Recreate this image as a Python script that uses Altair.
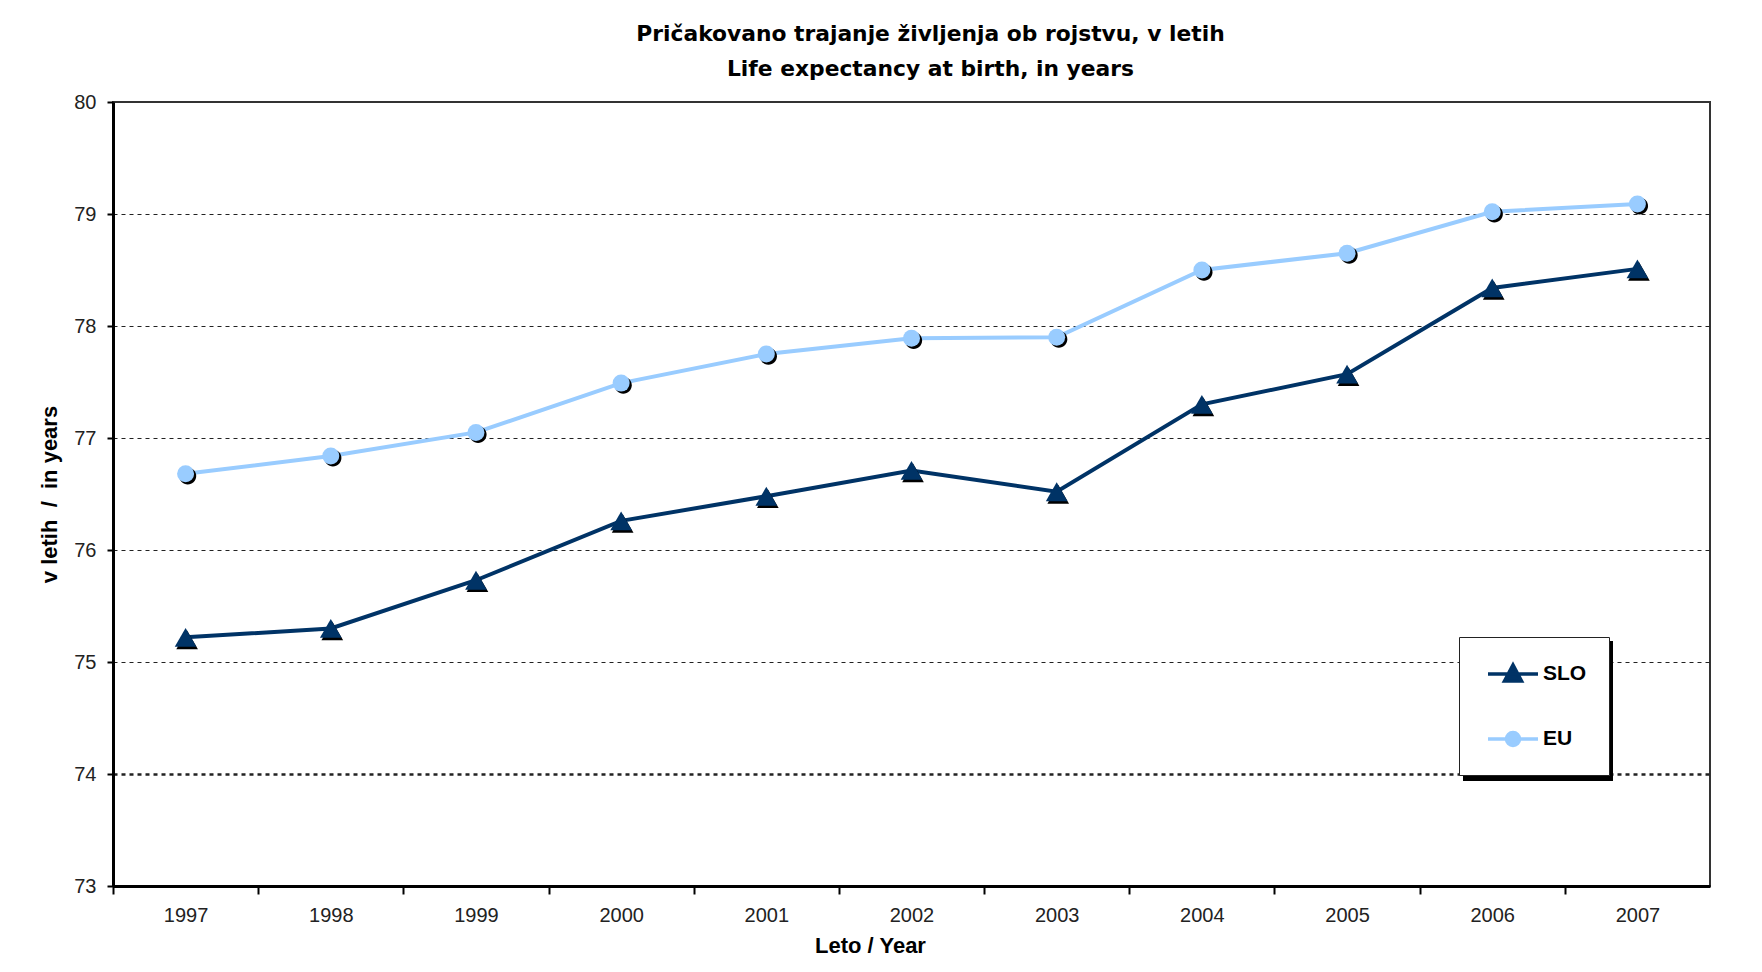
import altair as alt
import pandas as pd

# ---- data ----
years = ["1997", "1998", "1999", "2000", "2001", "2002", "2003", "2004", "2005", "2006", "2007"]
slo = [75.22, 75.30, 75.73, 76.26, 76.48, 76.71, 76.52, 77.30, 77.57, 78.34, 78.51]
eu = [76.68, 76.84, 77.05, 77.49, 77.75, 77.89, 77.90, 78.50, 78.65, 79.02, 79.09]
series_names = ["SLO", "EU"]
series_colors = ["#003366", "#99CCFF"]
y_ticks = [73, 74, 75, 76, 77, 78, 79, 80]
title_lines = ["Pričakovano trajanje življenja ob rojstvu, v letih",
               "Life expectancy at birth, in years"]
x_title = "Leto / Year"
y_title = "v letih\u00a0\u00a0/\u00a0\u00a0in years"

# ---- layout ----
W, H = 1597, 784
band = W / len(years)

df = pd.DataFrame({
    "year": years * 2,
    "value": slo + eu,
    "series": ["SLO"] * len(years) + ["EU"] * len(years),
})

x_enc = alt.X(
    "year:O",
    scale=alt.Scale(type="point", padding=0.5, domain=years),
    axis=alt.Axis(
        title=x_title, labelAngle=0, tickOffset=-band / 2, labelOffset=band / 2,
        tickSize=8, tickWidth=2, tickColor="black",
        domainColor="black", domainWidth=3,
        labelFont="Liberation Sans", labelFontSize=20, labelColor="#222",
        labelPadding=11, labelFlush=False, labelOverlap=False,
        titleFont="Liberation Sans", titleFontSize=22, titleFontWeight="bold",
        titleColor="black", titleX=757, titleY=66, titleBaseline="alphabetic",
        titleAlign="center", grid=False,
    ),
)
y_enc = alt.Y(
    "value:Q",
    scale=alt.Scale(domain=[73, 80], nice=False, zero=False),
    axis=alt.Axis(
        values=y_ticks, title=y_title, grid=True, gridDash=[4, 4],
        gridWidth={"condition": {"test": "datum.value === 74", "value": 2.5}, "value": 1},
        gridColor={"condition": {"test": "datum.value >= 80 || datum.value <= 73",
                                 "value": "transparent"}, "value": "#222"},
        tickSize=6, tickWidth=2, tickColor="black",
        domainColor="black", domainWidth=3,
        labelFont="Liberation Sans", labelFontSize=20, labelColor="#222",
        labelPadding=11,
        titleFont="Liberation Sans", titleFontSize=22, titleFontWeight="bold",
        titleColor="black", titleX=-57, titleY=H / 2, titleBaseline="alphabetic",
        titleAlign="center",
    ),
)

slo_legend_path = "M-1,0L1,0M-0.34,0.28L0,-0.36L0.34,0.28Z"
eu_legend_path = "M-1,0L1,0M-0.26,0A0.26,0.26,0,1,1,0.26,0A0.26,0.26,0,1,1,-0.26,0Z"
shape_expr = "datum.value === 'SLO' ? '%s' : '%s'" % (slo_legend_path, eu_legend_path)

color_enc = alt.Color(
    "series:N",
    scale=alt.Scale(domain=series_names, range=series_colors),
    legend=alt.Legend(
        orient="none", legendX=1346, legendY=535,
        # invisible spacer title that gives the legend box its width/height
        title="_" * 29, titleOrient="bottom", titleFontSize=8, titlePadding=4,
        titleColor="white", titleFont="Liberation Sans", titleLimit=400,
        padding=10, symbolOffset=17, symbolSize=2500, symbolStrokeWidth=3.5,
        symbolType=alt.expr(shape_expr),
        symbolStrokeColor=alt.expr("scale('color', datum.value)"),
        symbolOpacity=1,
        labelOffset=3, rowPadding=24,
        labelFont="Liberation Sans", labelFontSize=21, labelFontWeight="bold",
        labelColor="black", strokeColor="#222", fillColor="white", zindex=1,
    ),
)

base = alt.Chart(df)
slo_df = base.transform_filter("datum.series === 'SLO'")
eu_df = base.transform_filter("datum.series === 'EU'")

slo_line = slo_df.mark_line(strokeWidth=4, color=series_colors[0]).encode(x=x_enc, y=y_enc)
eu_line = eu_df.mark_line(strokeWidth=4, color=series_colors[1]).encode(x=x_enc, y=y_enc)

# invisible layer that carries the legend
legend_layer = base.mark_point(filled=True, size=0).encode(x=x_enc, y=y_enc, color=color_enc)

circle_shadow = "M-0.75,0.25A1,1,0,1,1,1.25,0.25A1,1,0,1,1,-0.75,0.25Z"
tri_shadow = "M0.14,-0.636L-0.86,1.096L1.14,1.096Z"

eu_shadow = eu_df.mark_point(
    shape=circle_shadow, filled=True, color="black", size=289, opacity=1
).encode(x=x_enc, y=y_enc)
eu_pts = eu_df.mark_point(
    shape="circle", filled=True, color=series_colors[1], size=289, opacity=1
).encode(x=x_enc, y=y_enc)
slo_shadow = slo_df.mark_point(
    shape=tri_shadow, filled=True, color="black", size=470, opacity=1
).encode(x=x_enc, y=y_enc)
slo_pts = slo_df.mark_point(
    shape="triangle-up", filled=True, color=series_colors[0], size=470, opacity=1
).encode(x=x_enc, y=y_enc)

# decorative drop shadow behind the legend box
legend_shadow = alt.Chart(pd.DataFrame({"k": [0]})).mark_rect(color="black").encode(
    x=alt.value(1350), x2=alt.value(1500), y=alt.value(539), y2=alt.value(679)
)

chart = alt.layer(
    slo_line, eu_line, eu_shadow, eu_pts, slo_shadow, slo_pts, legend_layer, legend_shadow
).properties(
    width=W, height=H,
    title=alt.Title(
        text=title_lines, font="DejaVu Sans", fontSize=21.8, fontWeight="bold",
        color="black", anchor="middle", dx=19, lineHeight=35, offset=11, frame="group",
    ),
    padding={"left": 105, "top": 94, "right": 40, "bottom": 70},
    autosize=alt.AutoSizeParams(type="none"),
    background="white",
).configure_view(stroke="#333", strokeWidth=2)

chart.save("out.html", embed_options={"renderer": "svg", "actions": False})
